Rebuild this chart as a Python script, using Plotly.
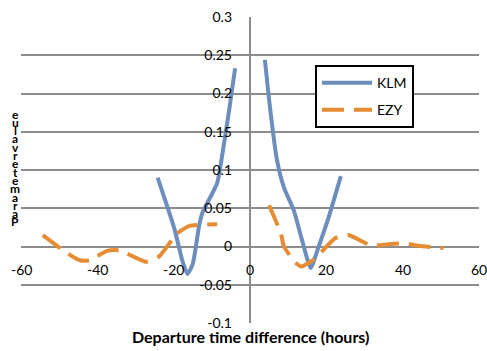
import plotly.graph_objects as go

# ---- data ----
klm_x = [-24.2, -19.8, -17.7, -16.4, -15.0, -13.3, -12.4, -8.6, -6.8, -5.5, -3.9, None,
         3.9, 5.0, 7.0, 8.9, 11.5, 13.6, 15.9, 18.0, 20.6, 23.8]
klm_y = [0.090, 0.023, -0.019, -0.036, -0.023, 0.028, 0.045, 0.083, 0.135, 0.177, 0.233, None,
         0.244, 0.192, 0.115, 0.077, 0.047, 0.009, -0.028, 0.000, 0.038, 0.092]

ezy_x = [-54.3, -47.8, -44.6, -42.0, -37.6, -34.2, -27.2, -23.8, -19.1, -15.9, -8.6, None,
         5.0, 8.1, 8.9, 11.9, 13.6, 16.7, 22.4, 25.8, 31.9, 36.3, 40.6, 44.1, 50.7]
ezy_y = [0.015, -0.009, -0.018, -0.018, -0.006, -0.005, -0.020, -0.013, 0.017, 0.027, 0.029, None,
         0.054, 0.017, 0.000, -0.021, -0.026, -0.017, 0.011, 0.015, 0.001, 0.003, 0.004, 0.001, -0.002]

x_ticks = [-60, -40, -20, 0, 20, 40, 60]
x_ticktext = ["-60", "-40", "-20", "0", "20", "40", "60"]
y_ticks = [-0.1, -0.05, 0, 0.05, 0.1, 0.15, 0.2, 0.25, 0.3]
y_ticktext = ["-0.1", "-0.05", "0", "0.05", "0.1", "0.15", "0.2", "0.25", "0.3"]
y_title = "Parameter value"
x_title = "Departure time difference (hours)"

W, H = 487, 351
L, R, T, B = 21, 8, 11, 28
FONT = "Lato"
XMIN, XMAX = -60, 60
YMIN, YMAX = -0.1, 0.3

def px2paper_x(px):
    return (px - L) / (W - L - R)

def px2paper_y(py):
    return (H - B - py) / (H - T - B)

fig = go.Figure()
fig.add_trace(go.Scatter(
    x=klm_x, y=klm_y, mode="lines", name="KLM", legendgroup="a",
    line=dict(color="#6D8DBC", width=4, shape="spline", smoothing=0.5),
    connectgaps=False))
fig.add_trace(go.Scatter(
    x=ezy_x, y=ezy_y, mode="lines", name="EZY", legendgroup="b",
    line=dict(color="#E68C32", width=4, dash="22px,10px", shape="spline", smoothing=0.5),
    connectgaps=False))

fig.update_layout(
    width=W, height=H,
    margin=dict(l=L, r=R, t=T, b=B),
    paper_bgcolor="white", plot_bgcolor="white",
    font=dict(family=FONT, size=14, color="black"),
    showlegend=True,
    legend=dict(x=px2paper_x(315), y=px2paper_y(60), xanchor="left", yanchor="top",
                bordercolor="black", borderwidth=2, bgcolor="white",
                traceorder="grouped", tracegroupgap=6, itemwidth=50,
                font=dict(family=FONT, size=14, color="black")),
    xaxis=dict(range=[XMIN, XMAX], showticklabels=False, visible=False,
               showgrid=False, zeroline=False, showline=False, ticks=""),
    yaxis=dict(range=[YMIN, YMAX], tickvals=y_ticks, ticktext=y_ticktext,
               showgrid=True, gridcolor="#8C8C8C", gridwidth=2,
               zeroline=False, showline=False, ticks="",
               anchor="free", position=0.5, ticklabelstandoff=18,
               tickfont=dict(size=14)),
)

# vertical y-axis line at x=0
fig.add_shape(type="line", xref="x", yref="y", x0=0, x1=0, y0=YMIN, y1=YMAX,
              line=dict(color="#8C8C8C", width=2), layer="below")

# x tick labels just below the zero line (each as its own annotation)
for v, t in zip(x_ticks, x_ticktext):
    fig.add_annotation(text=t, xref="x", yref="y", x=v, y=0,
                       yshift=-23, showarrow=False,
                       font=dict(family=FONT, size=14, color="#000000"),
                       bgcolor="rgba(255,255,255,0)",
                       xanchor="center", yanchor="middle")

# x axis title
fig.add_annotation(text="<b>" + x_title + "</b>", xref="paper", yref="paper",
                   x=px2paper_x(250), y=px2paper_y(337), showarrow=False,
                   font=dict(family=FONT, size=16, color="black"),
                   xanchor="center", yanchor="middle")

# stacked y title letters (rendered top-down, reversed)
letters = [c for c in y_title.replace(" ", "")][::-1]
n = len(letters)
top, bot = 110, 220
for i, ch in enumerate(letters):
    py = top + (bot - top) * i / (n - 1)
    fig.add_annotation(text="<b>" + ch + "</b>", xref="paper", yref="paper",
                       x=px2paper_x(15), y=px2paper_y(py), showarrow=False,
                       font=dict(family=FONT, size=12, color="black"),
                       xanchor="center", yanchor="middle")

fig.write_html("out.html")
